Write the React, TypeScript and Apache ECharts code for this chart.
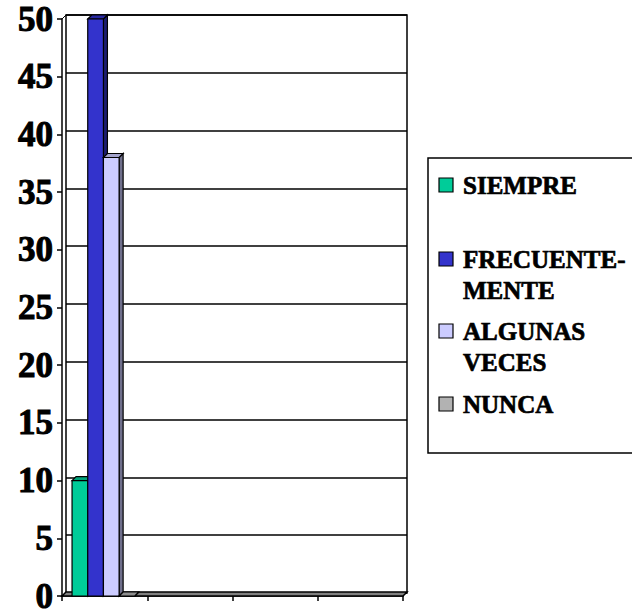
import React, { useEffect, useRef } from "react";
import * as echarts from "echarts";

// Response categories and counts
const categories = ["", "", "", ""];
const seriesNames = ["SIEMPRE", "FRECUENTEMENTE", "ALGUNAS VECES", "NUNCA"];
const legendLabels = ["SIEMPRE", "FRECUENTE-\nMENTE", "ALGUNAS\nVECES", "NUNCA"];
const siempre = [10];
const frecuentemente = [50];
const algunasVeces = [38];
const nunca = [0];
const seriesValues = [siempre, frecuentemente, algunasVeces, nunca];
const colors = ["#00CC99", "#3333CC", "#CCCCFF", "#B2B2B2"];

const yMin = 0;
const yMax = 50;
const yStep = 5;

// depth offset of the pseudo-3D walls and bars
const DX = 4;
const DY = -4;
const BAR_FRAC = 0.184;
const BAR_SHIFT = -1.2;
const FONT = "Liberation Serif, Times New Roman, serif";

function shade(hex: string, f: number): string {
  const n = parseInt(hex.slice(1), 16);
  const r = Math.round(((n >> 16) & 255) * f);
  const g = Math.round(((n >> 8) & 255) * f);
  const b = Math.round((n & 255) * f);
  return `rgb(${r},${g},${b})`;
}

// legend rows: first-line centre y (relative to box top)
const legendRowY = [27, 101, 173, 246];
const LINE_H = 31;

export default function App() {
  const ref = useRef<HTMLDivElement>(null);

  useEffect(() => {
    document.body.style.margin = "0";
    if (!ref.current) return;
    const chart = echarts.init(ref.current, undefined, { renderer: "svg" });

    const barSeries = seriesValues.map((vals, idx) => ({
      type: "custom",
      name: seriesNames[idx],
      xAxisIndex: 0,
      yAxisIndex: 0,
      z: 3,
      data: vals.map((v, i) => [i, v]),
      encode: { x: 0, y: 1 },
      renderItem: (params: any, api: any) => {
        const cat = api.value(0);
        const val = api.value(1);
        const top = api.coord([cat, val]);
        const base = api.coord([cat, 0]);
        const bandW = api.size([1, 0])[0];
        const w = bandW * BAR_FRAC;
        const x0 = top[0] - 2 * w + BAR_SHIFT + idx * w;
        const x1 = x0 + w;
        const yt = top[1];
        const yb = base[1];
        const color = colors[idx];
        const children: any[] = [
          {
            type: "polygon",
            shape: { points: [[x1, yt], [x1 + DX, yt + DY], [x1 + DX, yb + DY], [x1, yb]] },
            style: { fill: shade(color, 0.55), stroke: "#000", lineWidth: 1.2 },
          },
          {
            type: "polygon",
            shape: { points: [[x0, yt], [x0 + DX, yt + DY], [x1 + DX, yt + DY], [x1, yt]] },
            style: { fill: shade(color, 0.8), stroke: "#000", lineWidth: 1.2 },
          },
        ];
        if (yb - yt > 0) {
          children.push({
            type: "rect",
            shape: { x: x0, y: yt, width: w, height: yb - yt },
            style: { fill: color, stroke: "#000", lineWidth: 1.2 },
          });
        }
        return { type: "group", children };
      },
    }));

    // floor strip and left-wall top edge
    const frameSeries = {
      type: "custom",
      xAxisIndex: 0,
      yAxisIndex: 0,
      z: 2,
      silent: true,
      data: [[0, 0]],
      renderItem: (params: any) => {
        const cs = params.coordSys;
        const x = cs.x;
        const y = cs.y;
        const w = cs.width;
        const h = cs.height;
        return {
          type: "group",
          children: [
            {
              type: "polygon",
              shape: {
                points: [
                  [x, y + h],
                  [x + w, y + h],
                  [x + w + DX, y + h + DY],
                  [x + DX, y + h + DY],
                ],
              },
              style: { fill: "#808080", stroke: "#000", lineWidth: 1.5 },
            },
            {
              type: "line",
              shape: { x1: x, y1: y, x2: x + DX, y2: y + DY },
              style: { stroke: "#000", lineWidth: 1 },
            },
          ],
        };
      },
    };

    const legendChildren: any[] = [
      {
        type: "rect",
        shape: { x: 0, y: 0, width: 220, height: 295 },
        style: { fill: "#fff", stroke: "#000", lineWidth: 1.5 },
      },
    ];
    legendLabels.forEach((label, i) => {
      const cy = legendRowY[i];
      legendChildren.push({
        type: "rect",
        shape: { x: 11, y: cy - 7, width: 14, height: 14 },
        style: { fill: colors[i], stroke: "#000", lineWidth: 1.2 },
      });
      legendChildren.push({
        type: "text",
        x: 35,
        y: cy - LINE_H / 2,
        style: {
          text: label,
          fill: "#000",
          stroke: "#000",
          lineWidth: 0.7,
          fontFamily: FONT,
          fontWeight: "bold",
          fontSize: 25,
          lineHeight: LINE_H,
          verticalAlign: "top",
          align: "left",
        },
      });
    });

    chart.setOption({
      animation: false,
      backgroundColor: "#fff",
      grid: [
        { left: 62, top: 19, width: 341, height: 578 },
        {
          left: 62 + DX,
          top: 19 + DY,
          width: 341,
          height: 578,
          show: true,
          borderColor: "#000",
          borderWidth: 1.5,
          backgroundColor: "transparent",
        },
      ],
      xAxis: [
        {
          type: "category",
          gridIndex: 0,
          data: categories,
          axisLine: { lineStyle: { color: "#000", width: 1.5 } },
          axisTick: { show: true, length: 5, lineStyle: { color: "#000", width: 1.5 } },
          axisLabel: { show: false },
          splitLine: { show: false },
        },
        {
          type: "category",
          gridIndex: 1,
          data: categories,
          show: false,
        },
      ],
      yAxis: [
        {
          type: "value",
          gridIndex: 0,
          min: yMin,
          max: yMax,
          interval: yStep,
          axisLine: { show: true, lineStyle: { color: "#000", width: 1.5 } },
          axisTick: { show: true, length: 5, lineStyle: { color: "#000", width: 1.5 } },
          axisLabel: {
            color: "#000",
            fontFamily: FONT,
            fontWeight: "bold",
            fontSize: 35,
            margin: 9,
            textBorderColor: "#000",
            textBorderWidth: 1,
          },
          splitLine: { show: false },
        },
        {
          type: "value",
          gridIndex: 1,
          min: yMin,
          max: yMax,
          interval: yStep,
          axisLine: { show: false },
          axisTick: { show: false },
          axisLabel: { show: false },
          splitLine: { show: true, lineStyle: { color: "#000", width: 1.5 } },
        },
      ],
      series: [frameSeries, ...barSeries],
      graphic: [
        {
          type: "group",
          x: 428,
          y: 158,
          children: legendChildren,
        },
      ],
    });

    return () => chart.dispose();
  }, []);

  return (
    <div
      ref={ref}
      style={{ position: "absolute", left: 0, top: 0, width: 632, height: 614 }}
    />
  );
}
